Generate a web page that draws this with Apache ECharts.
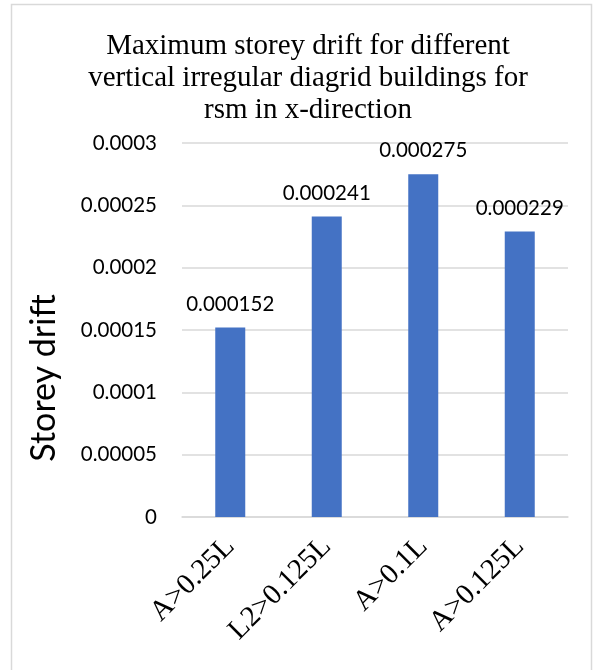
<!DOCTYPE html>
<html>
<head>
<meta charset="utf-8">
<script src="https://cdn.jsdelivr.net/npm/echarts@6/dist/echarts.min.js"></script>
<style>
  html, body { margin: 0; padding: 0; background: #fff; }
  #chart { width: 595px; height: 670px; }
</style>
</head>
<body>
<div id="chart"></div>
<script>
// Building configurations (categories) and their maximum storey drift
const categories = ['A>0.25L', 'L2>0.125L', 'A>0.1L', 'A>0.125L'];
const driftValues = [0.000152, 0.000241, 0.000275, 0.000229];
const yTickLabels = ['0', '0.00005', '0.0001', '0.00015', '0.0002', '0.00025', '0.0003'];

const sansFont = 'Lato, "Open Sans", sans-serif';
const serifFont = '"Liberation Serif", "Times New Roman", serif';

const chart = echarts.init(document.getElementById('chart'), null, { renderer: 'canvas' });

chart.setOption({
  animation: false,
  backgroundColor: '#ffffff',
  graphic: [
    {
      type: 'rect',
      shape: { x: 11.5, y: 4.5, width: 580, height: 700 },
      style: { fill: 'none', stroke: '#d9d9d9', lineWidth: 1.5 },
      silent: true
    },
    {
      // vertical axis title
      type: 'text',
      x: 44,
      y: 378,
      rotation: Math.PI / 2,
      style: {
        text: 'Storey drift',
        fontFamily: sansFont,
        fontSize: 34,
        fill: '#000',
        align: 'center',
        verticalAlign: 'middle'
      },
      silent: true
    }
  ],
  title: {
    text: 'Maximum storey drift for different\nvertical irregular diagrid buildings for\nrsm in x-direction',
    left: 303,
    top: 25,
    textAlign: 'center',
    textStyle: {
      fontFamily: serifFont,
      fontSize: 29,
      fontWeight: 'normal',
      color: '#000',
      lineHeight: 32
    }
  },
  grid: { left: 182, right: 27, top: 143, bottom: 153 },
  xAxis: {
    type: 'category',
    data: categories,
    axisLine: { lineStyle: { color: '#d9d9d9', width: 1.5 } },
    axisTick: { show: false },
    axisLabel: {
      rotate: 45,
      margin: 25,
      fontFamily: serifFont,
      fontSize: 29,
      color: '#000'
    }
  },
  yAxis: {
    type: 'value',
    min: 0,
    max: 0.0003,
    interval: 0.00005,
    axisLine: { show: false },
    axisTick: { show: false },
    splitLine: { lineStyle: { color: '#d9d9d9', width: 1.5 } },
    axisLabel: {
      margin: 25,
      fontFamily: sansFont,
      fontSize: 20.5,
      color: '#000',
      formatter: function (v) {
        const idx = Math.round(v / 0.00005);
        return yTickLabels[idx] !== undefined ? yTickLabels[idx] : '';
      }
    }
  },
  series: [{
    type: 'bar',
    data: driftValues,
    barWidth: 30,
    itemStyle: { color: '#4472c4' },
    label: {
      show: true,
      position: 'top',
      distance: 13,
      fontFamily: sansFont,
      fontSize: 20.5,
      color: '#000',
      formatter: function (p) { return String(driftValues[p.dataIndex]); }
    }
  }]
});
</script>
</body>
</html>
